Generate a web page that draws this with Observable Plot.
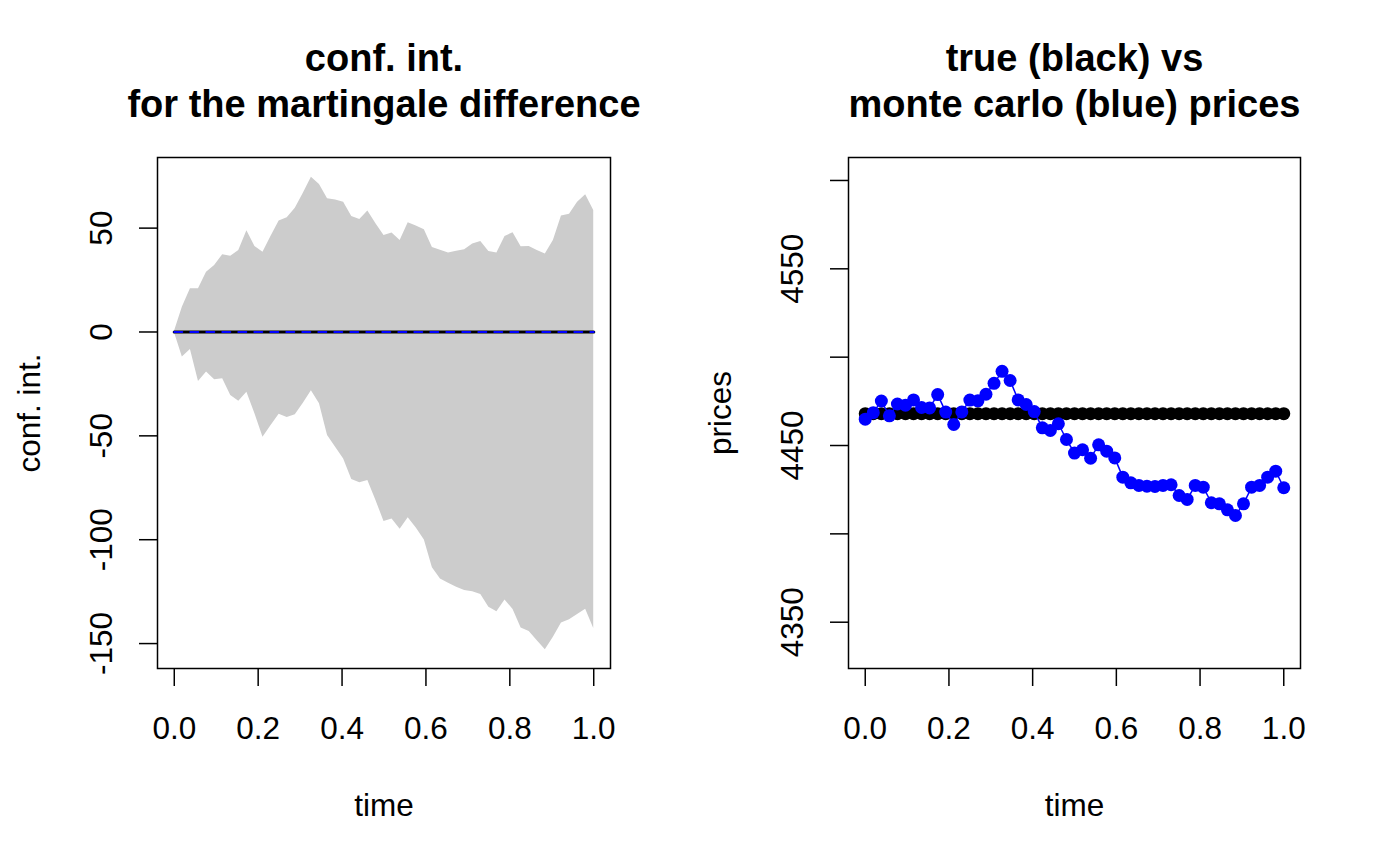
<!DOCTYPE html>
<html><head><meta charset="utf-8">
<script src="https://cdn.jsdelivr.net/npm/d3@7"></script>
<script src="https://cdn.jsdelivr.net/npm/@observablehq/plot@0.6"></script>
<style>
html,body{margin:0;padding:0;background:#fff;}
#wrap{position:relative;width:1382px;height:865px;overflow:hidden;}
#left,#right{position:absolute;top:0;}
#left{left:0;}#right{left:691px;}
</style></head><body><div id="wrap"><div id="left"></div><div id="right"></div></div>
<script>
// time grid (53 weekly steps from 0 to 1)
const times = [0,0.0192,0.0385,0.0577,0.0769,0.0962,0.1154,0.1346,0.1538,0.1731,0.1923,0.2115,0.2308,0.25,0.2692,0.2885,0.3077,0.3269,0.3462,0.3654,0.3846,0.4038,0.4231,0.4423,0.4615,0.4808,0.5,0.5192,0.5385,0.5577,0.5769,0.5962,0.6154,0.6346,0.6538,0.6731,0.6923,0.7115,0.7308,0.75,0.7692,0.7885,0.8077,0.8269,0.8462,0.8654,0.8846,0.9038,0.9231,0.9423,0.9615,0.9808,1];
// confidence interval for the martingale difference
const ciUpper = [0,11.9,20.8,20.8,28.8,32.0,37.2,36.5,39.2,48.7,41.2,38.4,46.1,53.4,55.0,59.6,66.8,74.5,71.0,64.1,63.6,62.5,55.6,54.2,58.2,52.1,46.5,47.6,44.1,52.6,51.0,49.2,40.7,39.4,38.0,38.9,39.6,42.3,43.6,38.8,38.0,46.0,47.8,41.0,41.2,39.2,37.5,44.1,55.8,56.7,62.5,66.1,58.5];
const ciLower = [0,-12.1,-8.4,-23.8,-19.3,-23.0,-22.5,-30.6,-33.3,-29.0,-39.4,-50.7,-45.0,-39.6,-41.2,-39.9,-34.3,-28.3,-34.6,-49.8,-55.5,-61.1,-71.0,-72.6,-71.5,-81.1,-91.2,-90.0,-95.0,-89.4,-94.4,-100.1,-113.5,-118.9,-121.0,-122.9,-124.4,-125.0,-126.4,-132.5,-134.7,-129.0,-133.6,-142.5,-144.2,-148.6,-153.0,-147.0,-140.1,-138.5,-136.0,-133.5,-142.7];
const meanDiff = [0,0,0,0,0,0,0,0,0,0,0,0,0,0,0,0,0,0,0,0,0,0,0,0,0,0,0,0,0,0,0,0,0,0,0,0,0,0,0,0,0,0,0,0,0,0,0,0,0,0,0,0,0];
// prices
const truePrices = [4468,4468,4468,4468,4468,4468,4468,4468,4468,4468,4468,4468,4468,4468,4468,4468,4468,4468,4468,4468,4468,4468,4468,4468,4468,4468,4468,4468,4468,4468,4468,4468,4468,4468,4468,4468,4468,4468,4468,4468,4468,4468,4468,4468,4468,4468,4468,4468,4468,4468,4468,4468,4468];
const mcPrices = [4464.9,4468.6,4475.2,4466.8,4473.5,4472.8,4475.8,4471.5,4471.3,4478.8,4468.9,4461.9,4469.0,4475.7,4475.3,4479.0,4485.2,4492.0,4486.8,4475.8,4473.2,4469.2,4460.0,4458.5,4462.3,4453.4,4445.7,4447.6,4442.8,4450.4,4446.8,4443.0,4432.1,4428.9,4427.4,4427.0,4426.8,4427.4,4427.8,4421.7,4419.5,4427.4,4426.4,4417.6,4417.0,4413.6,4410.4,4417.0,4426.4,4427.4,4432.1,4435.5,4426.1];
// ticks
const xTicks = [0,0.2,0.4,0.6,0.8,1];
const ciTicks = [50,0,-50,-100,-150];
const priceTicks = [4350,4400,4450,4500,4550,4600];
const priceTickLabels = [4350,4450,4550];

const ciData = times.map((t,i)=>({t, lo: ciLower[i], hi: ciUpper[i], m: meanDiff[i]}));
const priceData = times.map((t,i)=>({t, truth: truePrices[i], mc: mcPrices[i]}));

const font = "'Liberation Sans', Arial, Helvetica, sans-serif";
const FS = 31.5, TFS = 38;
const common = {
  width: 691, height: 865,
  marginLeft: 157, marginTop: 157, marginBottom: 197,
  style: {fontFamily: font, fontSize: FS + "px", background: "white", color: "black", overflow: "visible"},
  x: {domain: [-0.04, 1.04], label: null}
};
function decor(title1, title2, ylab) {
  return [
    Plot.frame({stroke: "black", strokeWidth: 1.5}),
    Plot.axisX(xTicks, {tickSize: 18, tickPadding: 30, tickFormat: d => d.toFixed(1), fontSize: FS, strokeWidth: 1.5, label: null}),
    Plot.text(["time"], {frameAnchor: "bottom", dy: 147, lineAnchor: "bottom", textAnchor: "middle", fontSize: FS}),
    Plot.text([ylab], {frameAnchor: "left", dx: -118, rotate: -90, lineAnchor: "bottom", textAnchor: "middle", fontSize: FS}),
    Plot.text([title1], {frameAnchor: "top", dy: -87, lineAnchor: "bottom", textAnchor: "middle", fontSize: TFS, fontWeight: "bold"}),
    Plot.text([title2], {frameAnchor: "top", dy: -41, lineAnchor: "bottom", textAnchor: "middle", fontSize: TFS, fontWeight: "bold"})
  ];
}

const left = Plot.plot({
  ...common,
  marginRight: 81,
  y: {domain: [-162, 84], label: null},
  marks: [
    Plot.areaY(ciData, {x: "t", y1: "lo", y2: "hi", fill: "#cccccc"}),
    Plot.lineY(ciData, {x: "t", y: "m", stroke: "black", strokeWidth: 3.2, strokeLinecap: "round"}),
    Plot.lineY(ciData, {x: "t", y: "m", stroke: "blue", strokeWidth: 2, strokeDasharray: "8,8", strokeLinecap: "round"}),
    Plot.axisY(ciTicks, {tickSize: 18, tickPadding: 28, tickRotate: -90, tickFormat: d => String(d), fontSize: FS, strokeWidth: 1.5, label: null}),
    ...decor("conf. int.", "for the martingale difference", "conf. int.")
  ]
});

const right = Plot.plot({
  ...common,
  marginRight: 82,
  y: {domain: [4323.8, 4613], label: null},
  marks: [
    Plot.lineY(priceData, {x: "t", y: "truth", stroke: "black", strokeWidth: 1.5}),
    Plot.dot(priceData, {x: "t", y: "truth", r: 6.5, fill: "black"}),
    Plot.lineY(priceData, {x: "t", y: "mc", stroke: "blue", strokeWidth: 1.5}),
    Plot.dot(priceData, {x: "t", y: "mc", r: 6.5, fill: "blue"}),
    Plot.axisY(priceTicks, {tickSize: 18, tickPadding: 28, tickRotate: -90, tickFormat: d => priceTickLabels.includes(d) ? String(d) : "", fontSize: FS, strokeWidth: 1.5, label: null}),
    ...decor("true (black) vs", "monte carlo (blue) prices", "prices")
  ]
});

document.getElementById("left").appendChild(left);
document.getElementById("right").appendChild(right);
</script>
</body></html>
